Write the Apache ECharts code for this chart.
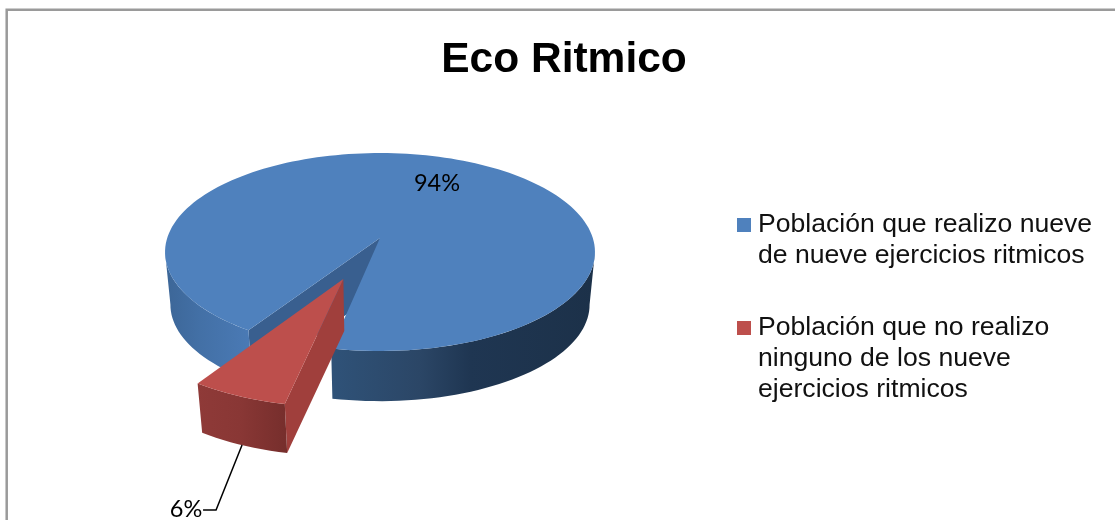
<!DOCTYPE html>
<html>
<head>
<meta charset="utf-8">
<style>html,body{margin:0;padding:0;background:#fff}#c{width:1115px;height:520px}</style>
<script src="https://cdn.jsdelivr.net/npm/echarts@6/dist/echarts.min.js"></script>
</head>
<body>
<div id="c"></div>
<script>
const categories = [
  'Población que realizo nueve\nde nueve ejercicios ritmicos',
  'Población que no realizo\nninguno de los nueve\nejercicios ritmicos'
];
const shares = [94, 6];
const titleText = 'Eco Ritmico';

const chart = echarts.init(document.getElementById('c'), null, {renderer: 'canvas'});
const total = shares.reduce((a, b) => a + b, 0);

// Perspective projection of the pie disc on screen
const view = {cx: 380, cy: 238, R: 212.8, Rs: 97, k: 0.1415, floorScale: 0.975, depth: 53, firstAngle: 213};
// Angles (clockwise from the back) between which the outer wall faces the viewer
const frontFrom = 98.1, frontTo = 261.9;

function project(u, v, low) {
  const d = 1 - view.k * v;
  const s = low ? view.floorScale : 1;
  return [view.cx + s * view.R * u / d, view.cy + s * view.Rs * v / d + (low ? view.depth : 0)];
}
function sliceInfo(index) {
  let before = 0;
  for (let i = 0; i < index; i++) before += shares[i];
  const start = view.firstAngle + before / total * 360;
  const sweep = shares[index] / total * 360;
  return {start, sweep, mid: start + sweep / 2};
}
function arc(from, to, offset, low) {
  const pts = [];
  const n = Math.max(8, Math.ceil((to - from) / 2));
  for (let i = 0; i <= n; i++) {
    const a = (from + (to - from) * i / n) * Math.PI / 180;
    pts.push(project(Math.sin(a) + offset[0], -Math.cos(a) + offset[1], low));
  }
  return pts;
}
function frontRanges(info) {
  const out = [];
  const end = info.start + info.sweep;
  [0, 360].forEach(shift => {
    const a = Math.max(info.start, frontFrom + shift);
    const b = Math.min(end, frontTo + shift);
    if (b > a) out.push([a, b]);
  });
  return out;
}
function xGradient(x0, x1, stops) {
  return new echarts.graphic.LinearGradient(x0, 0, x1, 0,
    stops.map(s => ({offset: (s[0] - x0) / (x1 - x0), color: s[1]})), true);
}
const styles = [
  {top: '#4f81bd', inner: '#395f8f', explode: 0,
   wall: xGradient(165, 595, [[165, '#3c6697'], [200, '#4370a6'], [250, '#4a7ab5'], [333, '#2f5278'], [420, '#2b4666'], [470, '#1f3652'], [595, '#1c3149']])},
  {top: '#bd4f4c', inner: '#a03f3c', explode: 0.43,
   wall: xGradient(196, 292, [[196, '#8f3a38'], [240, '#893735'], [292, '#742d2b']])}
];

function renderSlice(params, api) {
  const i = params.seriesIndex;
  api.value(0);
  const st = styles[i];
  const info = sliceInfo(i);
  const end = info.start + info.sweep;
  const midRad = info.mid * Math.PI / 180;
  const off = [Math.sin(midRad) * st.explode, -Math.cos(midRad) * st.explode];
  const topRim = arc(info.start, end, off, false);
  const apexTop = project(off[0], off[1], false);
  const apexLow = project(off[0], off[1], true);
  const firstLow = arc(info.start, end, off, true)[0];
  const children = [];
  // inner radial wall
  children.push({type: 'polygon', shape: {points: [apexTop, topRim[0], firstLow, apexLow]}, style: {fill: st.inner}});
  // outer wall, only where it faces the viewer
  frontRanges(info).forEach(r => {
    children.push({type: 'polygon', shape: {points: arc(r[0], r[1], off, false).concat(arc(r[0], r[1], off, true).reverse())}, style: {fill: st.wall}});
  });
  // top face
  children.push({type: 'polygon', shape: {points: [apexTop].concat(topRim)}, style: {fill: st.top}});
  const pct = Math.round(shares[i] / total * 100) + '%';
  const labelFont = {fontSize: 23.5, fontFamily: 'Lato, Carlito, sans-serif'};
  if (i === 0) {
    children.push({type: 'text', style: Object.assign({text: pct, x: 437, y: 183, fill: '#000', align: 'center', verticalAlign: 'middle'}, labelFont)});
  } else {
    const foot = project(Math.sin(midRad) * (1 + st.explode), -Math.cos(midRad) * (1 + st.explode), true);
    const knee = [foot[0] - 26, foot[1] + 65];
    children.push({type: 'polyline', shape: {points: [foot, knee, [knee[0] - 13, knee[1]]]}, style: {stroke: '#000', lineWidth: 1.5, fill: 'none'}});
    children.push({type: 'text', style: Object.assign({text: pct, x: 186, y: 509, fill: '#000', align: 'center', verticalAlign: 'middle'}, labelFont)});
  }
  return {type: 'group', children};
}

const lineCount = s => s.split('\n').length;

chart.setOption({
  animation: false,
  backgroundColor: '#fff',
  title: {
    text: titleText, left: 559, top: 34, textAlign: 'center',
    textStyle: {fontFamily: '"Liberation Sans", Arial, sans-serif', fontWeight: 'bold', fontSize: 42.5, color: '#000'}
  },
  legend: {
    orient: 'vertical', left: 737, top: 178.5, itemWidth: 14, itemHeight: 14, itemGap: -21,
    padding: 0, selectedMode: false, icon: 'rect',
    // blank lines above keep the swatch level with the first text line
    formatter: name => '\n'.repeat(lineCount(name) - 1) + name,
    textStyle: {fontFamily: '"Liberation Sans", Arial, sans-serif', fontSize: 26.6, lineHeight: 31, color: '#111', padding: [0, 0, 0, 2]},
    data: categories
  },
  graphic: [{type: 'rect', silent: true, z: -1, shape: {x: 6.7, y: 9.7, width: 1300, height: 800}, style: {fill: 'none', stroke: '#9a9a9a', lineWidth: 2.5}}],
  series: categories.map((name, i) => ({
    type: 'custom', name, coordinateSystem: 'none', renderItem: renderSlice,
    itemStyle: {color: styles[i].top}, data: [[shares[i]]], silent: true
  }))
});
</script>
</body>
</html>
